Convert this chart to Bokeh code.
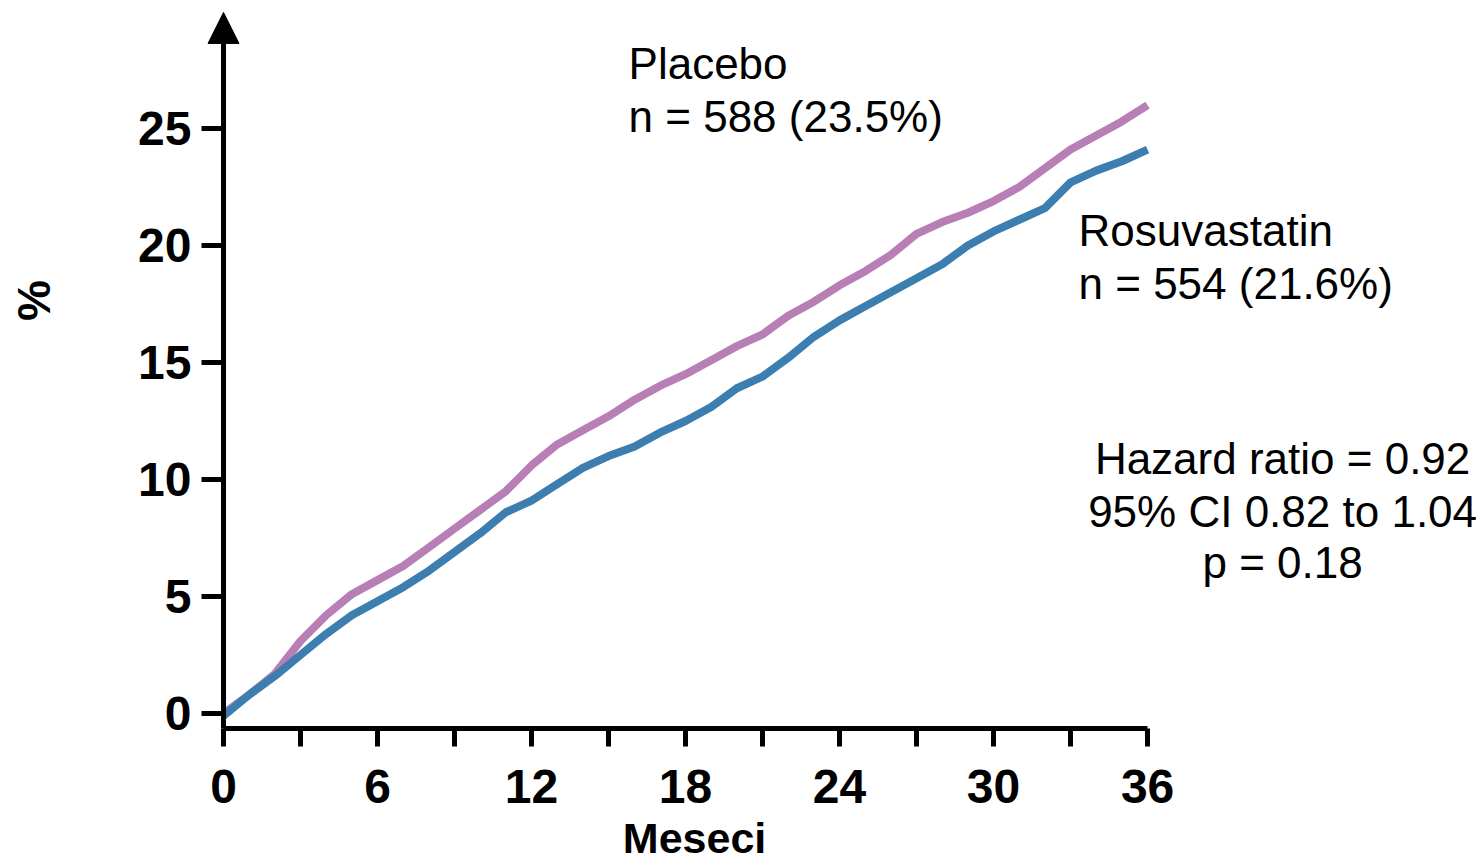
import math
from bokeh.plotting import figure
from bokeh.models import Range1d, FixedTicker, Arrow, NormalHead, Label
from bokeh.embed import file_html
from bokeh.resources import INLINE

# ---- data ----
months = list(range(37))
placebo = [0.0, 0.8, 1.7, 3.1, 4.2, 5.1, 5.7, 6.3, 7.1, 7.9, 8.7, 9.5, 10.6,
           11.5, 12.1, 12.7, 13.4, 14.0, 14.5, 15.1, 15.7, 16.2, 17.0, 17.6,
           18.3, 18.9, 19.6, 20.5, 21.0, 21.4, 21.9, 22.5, 23.3, 24.1, 24.7,
           25.3, 26.0]
rosuvastatin = [-0.1, 0.8, 1.6, 2.5, 3.4, 4.2, 4.8, 5.4, 6.1, 6.9, 7.7, 8.6,
                9.1, 9.8, 10.5, 11.0, 11.4, 12.0, 12.5, 13.1, 13.9, 14.4, 15.2,
                16.1, 16.8, 17.4, 18.0, 18.6, 19.2, 20.0, 20.6, 21.1, 21.6,
                22.7, 23.2, 23.6, 24.1]
x_ticks = list(range(0, 37, 3))
x_tick_labels = {t: (str(t) if t % 6 == 0 else "") for t in x_ticks}
y_ticks = [0, 5, 10, 15, 20, 25]

PINK = "#b87fb7"
BLUE = "#3b7eaf"
FONT = "Liberation Sans"

p = figure(width=1480, height=864, output_backend="svg", toolbar_location=None,
           x_range=Range1d(-8.688, 48.97), y_range=Range1d(-6.453, 30.47),
           min_border_left=0, min_border_right=0, min_border_top=0,
           min_border_bottom=0)
p.outline_line_color = None
p.grid.visible = False
p.background_fill_color = "white"
p.border_fill_color = "white"

# x axis (placed at y = -0.64 in data space)
xa = p.xaxis[0]
xa.fixed_location = -0.64
xa.ticker = FixedTicker(ticks=x_ticks)
xa.major_label_overrides = x_tick_labels
xa.bounds = (0, 36)
xa.axis_line_width = 5
xa.axis_line_color = "black"
xa.major_tick_line_width = 5
xa.major_tick_out = 18
xa.major_tick_in = 0
xa.minor_tick_line_color = None
xa.major_label_text_font = FONT
xa.major_label_text_font_style = "bold"
xa.major_label_text_font_size = "48px"
xa.major_label_text_color = "black"
xa.major_label_standoff = 24

# y axis (placed at x = 0 in data space)
ya = p.yaxis[0]
ya.fixed_location = 0
ya.ticker = FixedTicker(ticks=y_ticks)
ya.axis_line_color = None
ya.major_tick_line_width = 5
ya.major_tick_out = 22
ya.major_tick_in = 0
ya.minor_tick_line_color = None
ya.major_label_text_font = FONT
ya.major_label_text_font_style = "bold"
ya.major_label_text_font_size = "48px"
ya.major_label_text_color = "black"
ya.major_label_standoff = 10

# y axis line with arrow head
p.add_layout(Arrow(end=NormalHead(size=31, fill_color="black", line_color="black", line_width=1),
                   x_start=0, y_start=-0.64, x_end=0, y_end=29.96,
                   line_width=5, line_color="black"))

# curves
p.line(months, placebo, line_width=8, line_color=PINK)
p.line(months, rosuvastatin, line_width=8, line_color=BLUE)

def lab(x, y, text, align="left", size="44px", bold=False, angle=0.0, baseline="alphabetic"):
    p.add_layout(Label(x=x, y=y, text=text, text_align=align,
                       text_baseline=baseline, text_font=FONT,
                       text_font_size=size, angle=angle,
                       text_font_style="bold" if bold else "normal",
                       text_color="black"))

DY = 0.73
lab(15.78, 27.05 + DY, "Placebo")
lab(15.78, 24.79 + DY, "n = 588 (23.5%)")
lab(33.31, 19.91 + DY, "Rosuvastatin")
lab(33.31, 17.65 + DY, "n = 554 (21.6%)")
lab(41.26, 10.17 + DY, "Hazard ratio = 0.92", align="center")
lab(41.26, 7.91 + DY, "95% CI 0.82 to 1.04", align="center")
lab(41.26, 5.73 + DY, "p = 0.18", align="center")
lab(18.35, -5.30, "Meseci", align="center", bold=True, size="43px")
lab(-7.4, 17.65, "%", align="center", bold=True, size="46px",
    angle=math.pi / 2, baseline="middle")

open("out.html", "w").write(file_html(p, INLINE))
